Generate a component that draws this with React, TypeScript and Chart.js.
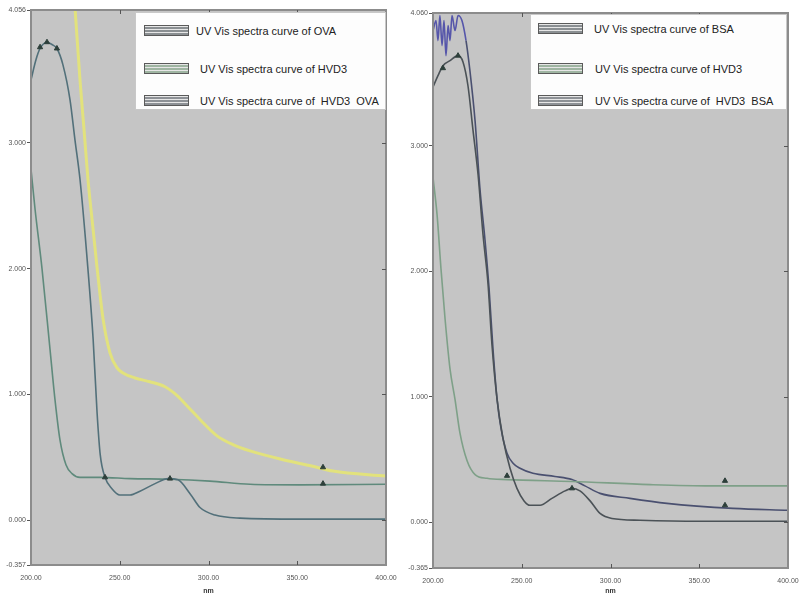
import React, { useEffect, useRef } from "react";
import { Chart, registerables } from "chart.js";
Chart.register(...registerables);
Chart.defaults.font.family = "'Liberation Sans', Arial, sans-serif";

// ---------- Left panel (OVA) ----------
const ovaWl = [200, 202.8, 205.1, 209, 212, 214.6, 218, 222, 224.8, 227.6, 232, 235, 237.2, 239, 241.7, 245.6, 250, 255.8, 261.4, 269.9, 277.2, 282.8, 289.6, 295.2, 303.7, 317.7, 351.5, 400];
const ovaAbs = [3.50, 3.66, 3.75, 3.80, 3.78, 3.75, 3.62, 3.34, 3.02, 2.71, 2.01, 1.44, 0.86, 0.52, 0.34, 0.25, 0.20, 0.20, 0.23, 0.29, 0.33, 0.32, 0.21, 0.10, 0.04, 0.016, 0.008, 0.008];

const hvd3LWl = [200, 202.3, 206.2, 210.7, 213.5, 216.3, 219.7, 223.1, 227.6, 238.9, 255.8, 278.3, 300.8, 323.4, 351.5, 400];
const hvd3LAbs = [2.79, 2.47, 2.0, 1.36, 0.96, 0.64, 0.44, 0.37, 0.34, 0.34, 0.33, 0.325, 0.31, 0.285, 0.28, 0.285];

const hvd3OvaWl = [222, 224.8, 227.6, 229.9, 232.1, 235, 237.2, 240.6, 244.5, 248.5, 251.8, 258.6, 267, 275.5, 282.3, 288.5, 295.2, 304.8, 313.8, 323.4, 342, 358.1, 370.1, 400];
const hvd3OvaAbs = [4.61, 4.07, 3.50, 3.10, 2.71, 2.31, 2.01, 1.60, 1.33, 1.21, 1.17, 1.13, 1.10, 1.06, 0.99, 0.90, 0.80, 0.67, 0.60, 0.55, 0.48, 0.43, 0.39, 0.35];

const peaksLWl = [205.1, 209, 214.6, 241.7, 278.3, 364.5, 364.5];
const peaksLAbs = [3.76, 3.80, 3.75, 0.34, 0.33, 0.29, 0.42];

const leftYTicks = [-0.357, 0, 1, 2, 3, 4.056];
const leftLabels = ["UV Vis spectra curve of OVA", "UV Vis spectra curve of HVD3", "UV Vis spectra curve of  HVD3  OVA"];

// ---------- Right panel (BSA) ----------
const bsaWl = [200, 202.8, 205.6, 209.6, 214.1, 216.9, 219.7, 222.5, 225.4, 228.2, 231, 233.2, 236.1, 239.4, 243.4, 247.3, 251.3, 254.6, 260.3, 267, 274.4, 278.3, 282.8, 288.5, 294.1, 300.8, 316.6, 350.4, 400];
const bsaAbs = [3.47, 3.56, 3.64, 3.68, 3.72, 3.67, 3.48, 3.13, 2.77, 2.29, 1.90, 1.42, 0.98, 0.67, 0.43, 0.27, 0.17, 0.135, 0.135, 0.19, 0.25, 0.27, 0.25, 0.17, 0.07, 0.03, 0.016, 0.008, 0.008];

const hvd3RWl = [200, 202.3, 204.5, 206.8, 209.6, 212.4, 215.2, 219.2, 223.7, 230.4, 241.7, 278.3, 322.3, 356.1, 400];
const hvd3RAbs = [2.75, 2.45, 2.02, 1.62, 1.22, 0.98, 0.71, 0.49, 0.38, 0.35, 0.34, 0.325, 0.30, 0.29, 0.29];

const hvd3BsaWl = [200, 201.7, 202.8, 203.9, 205.1, 206.2, 207.3, 208.5, 209.6, 210.7, 212.4, 214.1, 216.3, 218.6, 220.8, 223.7, 226.5, 229.3, 231.6, 233.8, 236.1, 238.3, 241.7, 245.1, 249, 256.3, 268.7, 278.3, 285.6, 294.1, 311, 331.8, 369, 400];
const hvd3BsaAbs = [3.92, 4.0, 3.84, 4.04, 3.80, 4.0, 3.72, 3.96, 3.84, 4.04, 3.92, 4.04, 4.0, 3.84, 3.60, 3.20, 2.65, 2.25, 1.86, 1.38, 0.98, 0.75, 0.55, 0.47, 0.43, 0.39, 0.365, 0.34, 0.29, 0.23, 0.19, 0.15, 0.11, 0.095];

const peaksRWl = [205.6, 214.1, 241.7, 278.3, 364.5, 364.5];
const peaksRAbs = [3.62, 3.72, 0.37, 0.27, 0.33, 0.135];

const rightYTicks = [-0.365, 0, 1, 2, 3, 4.06];
const rightLabels = ["UV Vis spectra curve of BSA", "UV Vis spectra curve of HVD3", "UV Vis spectra curve of  HVD3  BSA"];

const xTicks = [200, 250, 300, 350, 400];

const zip = (xs: number[], ys: number[]) => xs.map((x, i) => ({ x, y: ys[i] }));

const framePlugin = {
  id: "frame",
  beforeDraw(chart: any) {
    const { ctx, chartArea: a } = chart;
    ctx.save();
    ctx.fillStyle = "#c5c5c5";
    ctx.fillRect(a.left, a.top, a.right - a.left, a.bottom - a.top);
    ctx.restore();
  },
  afterDraw(chart: any) {
    const { ctx, chartArea: a, scales } = chart;
    ctx.save();
    ctx.strokeStyle = "#8c8c8c";
    ctx.lineWidth = 2;
    ctx.strokeRect(a.left, a.top, a.right - a.left, a.bottom - a.top);
    ctx.strokeStyle = "#555";
    ctx.lineWidth = 1;
    scales.x.ticks.forEach((t: any) => {
      const px = Math.round(scales.x.getPixelForValue(t.value)) + 0.5;
      if (px <= a.left + 2 || px >= a.right - 2) return;
      ctx.beginPath();
      ctx.moveTo(px, a.bottom);
      ctx.lineTo(px, a.bottom - 4);
      ctx.moveTo(px, a.top);
      ctx.lineTo(px, a.top + 4);
      ctx.stroke();
    });
    scales.y.ticks.forEach((t: any) => {
      const py = Math.round(scales.y.getPixelForValue(t.value)) + 0.5;
      if (py <= a.top + 2 || py >= a.bottom - 2) return;
      ctx.beginPath();
      ctx.moveTo(a.right, py);
      ctx.lineTo(a.right - 4, py);
      ctx.stroke();
    });
    ctx.restore();
  },
};

type Series = { wl: number[]; abs: number[]; color: string; width: number; noisyColor?: string };

type PanelProps = {
  series: Series[];
  peaksWl: number[];
  peaksAbs: number[];
  yTicks: number[];
  pad: { left: number; right: number; top: number; bottom: number };
};

function Panel({ series, peaksWl, peaksAbs, yTicks, pad }: PanelProps) {
  const ref = useRef<HTMLCanvasElement | null>(null);
  useEffect(() => {
    if (!ref.current) return;
    const datasets: any[] = series.map((s) => ({
      data: zip(s.wl, s.abs),
      borderColor: s.color,
      borderWidth: s.width,
      pointRadius: 0,
      cubicInterpolationMode: "monotone",
      fill: false,
      segment: s.noisyColor
        ? { borderColor: (c: any) => (c.p0.parsed.x < 217 ? s.noisyColor : s.color) }
        : undefined,
    }));
    datasets.unshift({
      data: zip(peaksWl, peaksAbs),
      showLine: false,
      pointStyle: "triangle",
      pointRadius: 3,
      pointBackgroundColor: "#2d3f3a",
      pointBorderColor: "#2d3f3a",
    });
    const chart = new Chart(ref.current, {
      type: "line",
      data: { datasets },
      plugins: [framePlugin],
      options: {
        animation: false,
        responsive: false,
        layout: { padding: { left: 0, right: pad.right, top: pad.top, bottom: 0 } },
        plugins: { legend: { display: false }, tooltip: { enabled: false } },
        scales: {
          x: {
            type: "linear",
            min: 200,
            max: 400,
            afterBuildTicks: (s: any) => {
              s.ticks = xTicks.map((v) => ({ value: v }));
            },
            afterFit: (s: any) => {
              s.height = pad.bottom;
              s.paddingLeft = 0;
              s.paddingRight = 0;
            },
            grid: { display: false, drawTicks: false, tickLength: 0 },
            border: { display: false },
            ticks: {
              padding: 9,
              maxRotation: 0,
              autoSkip: false,
              color: "#555",
              font: { size: 7 },
              callback: (v: any) => Number(v).toFixed(2),
            },
            title: {
              display: true,
              text: "nm",
              color: "#333",
              font: { size: 7, weight: "bold" },
              padding: { top: 0, bottom: 5 },
            },
          },
          y: {
            type: "linear",
            min: yTicks[0],
            max: yTicks[yTicks.length - 1],
            afterBuildTicks: (s: any) => {
              s.ticks = yTicks.map((v) => ({ value: v }));
            },
            afterFit: (s: any) => {
              s.width = pad.left;
              s.paddingTop = 0;
              s.paddingBottom = 0;
            },
            grid: { drawOnChartArea: false, drawTicks: true, tickLength: 4, color: "#555" },
            border: { display: false },
            ticks: {
              padding: 1,
              autoSkip: false,
              color: "#555",
              font: { size: 7 },
              callback: (v: any) => Number(v).toFixed(3),
            },
          },
        },
      },
    });
    return () => chart.destroy();
  }, []);
  return <canvas ref={ref} width={400} height={600} style={{ display: "block" }} />;
}

type LegendProps = {
  labels: string[];
  colors: string[];
  box: { left: number; top: number; width: number; height: number };
  rows: number[];
  textLeft: number[];
  swatchLeft: number;
};

function Legend({ labels, colors, box, rows, textLeft, swatchLeft }: LegendProps) {
  return (
    <div
      style={{
        position: "absolute",
        left: box.left,
        top: box.top,
        width: box.width,
        height: box.height,
        background: "#fdfdfd",
        border: "1px solid #c8c8c8",
        boxSizing: "border-box",
      }}
    >
      {labels.map((lab, i) => (
        <React.Fragment key={i}>
          <div
            style={{
              position: "absolute",
              left: swatchLeft,
              top: rows[i] - 6,
              width: 45,
              height: 11,
              boxSizing: "border-box",
              border: "1px solid #5a5a5a",
              background: `repeating-linear-gradient(to bottom, #e6e6e6 0px, #e6e6e6 1px, ${colors[i]} 1px, ${colors[i]} 3px)`,
            }}
          />
          <div
            style={{
              position: "absolute",
              left: textLeft[i],
              top: rows[i] - 7,
              height: 14,
              lineHeight: "14px",
              fontFamily: "'Liberation Sans', Arial, sans-serif",
              fontSize: 11,
              color: "#222",
              whiteSpace: "pre",
            }}
          >
            {lab}
          </div>
        </React.Fragment>
      ))}
    </div>
  );
}

const leftSeries: Series[] = [
  { wl: ovaWl, abs: ovaAbs, color: "#52707a", width: 1.6 },
  { wl: hvd3LWl, abs: hvd3LAbs, color: "#5f8a7c", width: 1.6 },
  { wl: hvd3OvaWl, abs: hvd3OvaAbs, color: "#e2e27c", width: 3 },
];
const rightSeries: Series[] = [
  { wl: bsaWl, abs: bsaAbs, color: "#4b5257", width: 1.6 },
  { wl: hvd3RWl, abs: hvd3RAbs, color: "#7ea088", width: 1.6 },
  { wl: hvd3BsaWl, abs: hvd3BsaAbs, color: "#4a5070", width: 1.6, noisyColor: "#5656aa" },
];

export default function App() {
  return (
    <div style={{ position: "fixed", left: 0, top: 0, width: 800, height: 600, background: "#fff" }}>
      <div style={{ position: "absolute", left: 0, top: 0, width: 400, height: 600 }}>
        <Panel
          series={leftSeries}
          peaksWl={peaksLWl}
          peaksAbs={peaksLAbs}
          yTicks={leftYTicks}
          pad={{ left: 31, right: 14, top: 10, bottom: 35 }}
        />
        <Legend
          labels={leftLabels}
          colors={["#8a8f92", "#9fb5a2", "#8d9196"]}
          box={{ left: 135, top: 12, width: 251, height: 98 }}
          rows={[18, 56, 88]}
          textLeft={[60, 64, 64]}
          swatchLeft={8}
        />
      </div>
      <div style={{ position: "absolute", left: 400, top: 0, width: 400, height: 600 }}>
        <Panel
          series={rightSeries}
          peaksWl={peaksRWl}
          peaksAbs={peaksRAbs}
          yTicks={rightYTicks}
          pad={{ left: 33, right: 12, top: 13, bottom: 32 }}
        />
        <Legend
          labels={rightLabels}
          colors={["#8a8f92", "#9fb5a2", "#8d9196"]}
          box={{ left: 130, top: 14, width: 257, height: 96 }}
          rows={[14, 54, 86]}
          textLeft={[63, 64, 64]}
          swatchLeft={7}
        />
      </div>
    </div>
  );
}
